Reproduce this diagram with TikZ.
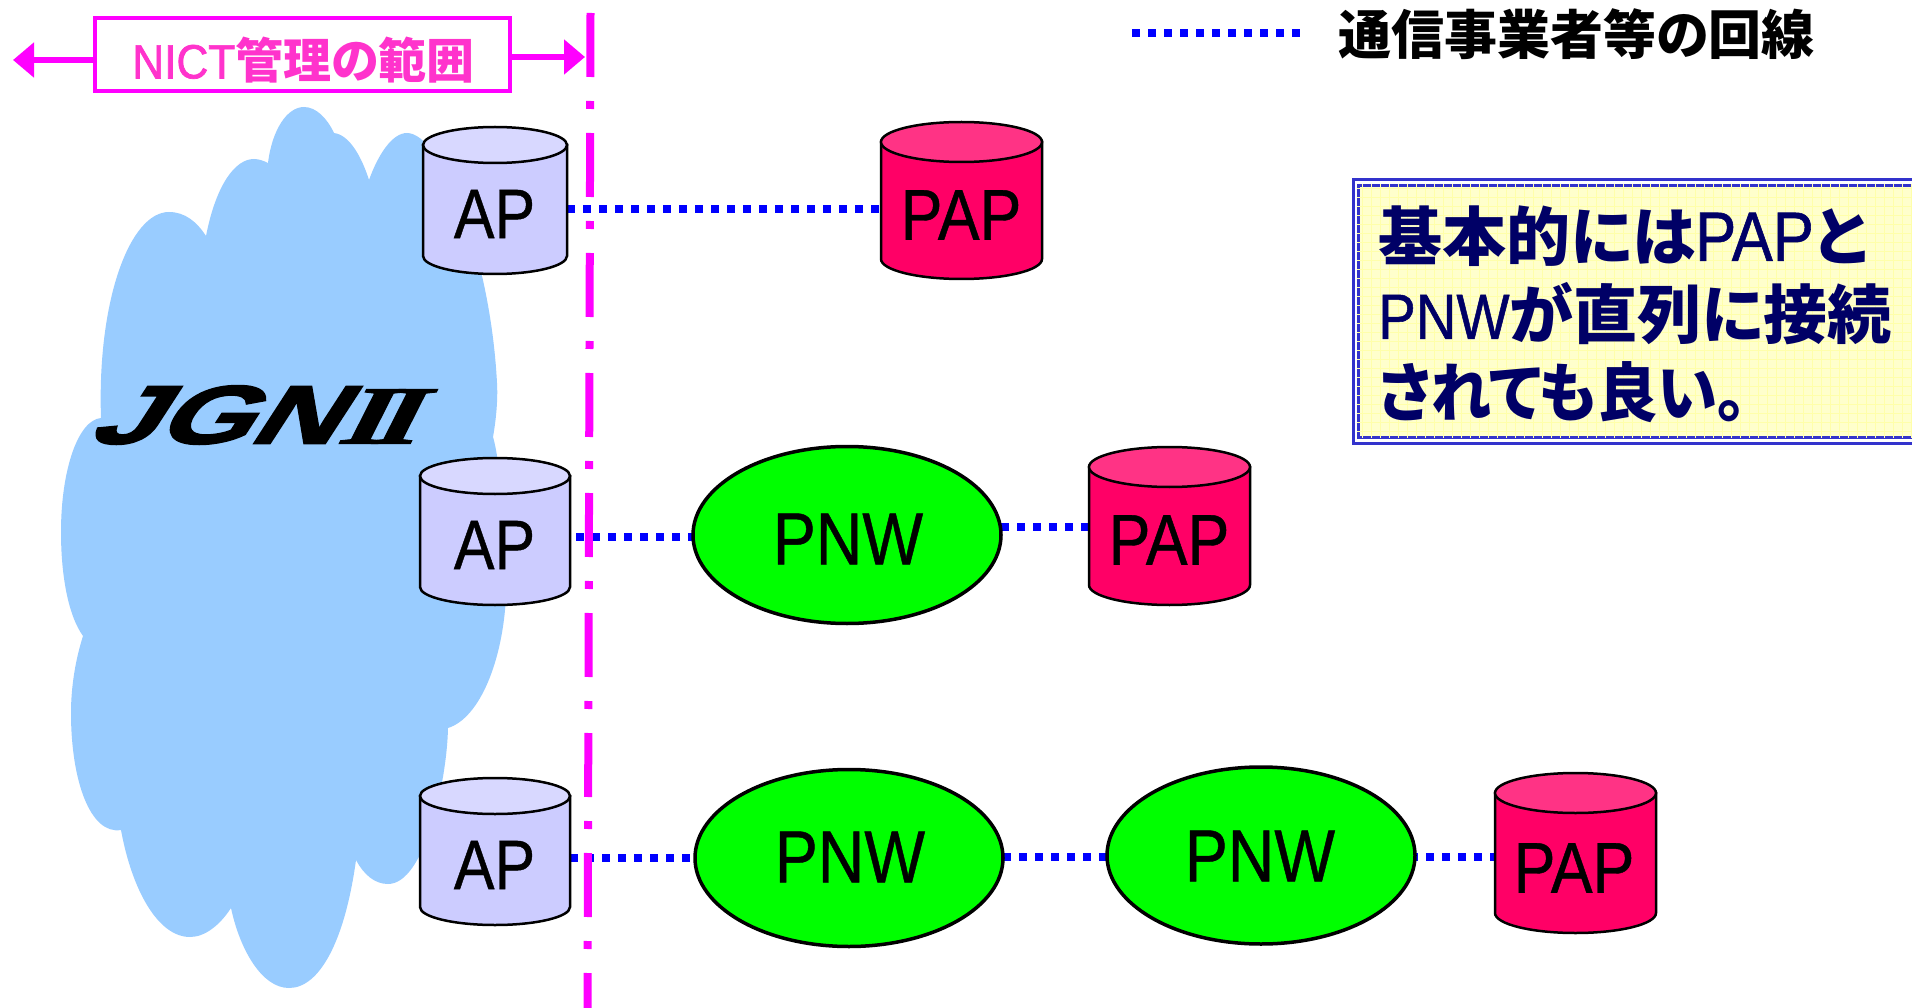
\documentclass[tikz,border=0pt]{standalone}
\usepackage{fontspec}
\usepackage{graphicx}
\usetikzlibrary{arrows.meta,shapes.geometric}
\newfontfamily\jp[RawFeature=+palt]{Noto Sans CJK JP}
\newfontfamily\lat[FakeStretch=0.87,FakeBold=0.6]{Liberation Sans}
\newfontfamily\latn[FakeStretch=0.88,FakeBold=0.8]{Liberation Sans}
\newfontfamily\latb[FakeStretch=0.92,FakeBold=1.5]{Liberation Sans}
\newfontfamily\logoa[FakeSlant=0.45,FakeBold=2]{Liberation Sans Bold}
\newfontfamily\logob[FakeSlant=0.35,FakeBold=1]{Liberation Serif Bold}
\definecolor{cloudc}{RGB}{153,204,255}
\definecolor{apbody}{RGB}{204,204,255}
\definecolor{aptop}{RGB}{216,216,255}
\definecolor{papbody}{RGB}{255,0,102}
\definecolor{paptop}{RGB}{255,51,133}
\definecolor{pinktext}{RGB}{255,51,204}
\definecolor{notefill}{RGB}{255,255,204}
\definecolor{notegrid}{RGB}{255,255,170}
\definecolor{noteline}{RGB}{51,51,204}
\definecolor{navytext}{RGB}{0,0,102}
\definecolor{mag}{RGB}{255,0,255}
\definecolor{linkblue}{RGB}{0,0,255}
\definecolor{pnwgreen}{RGB}{0,255,0}
\pgfdeclarelayer{backlayer}
\pgfdeclarelayer{linklayer}
\pgfsetlayers{backlayer,linklayer,main}
\tikzset{
  link/.style={linkblue,line width=7.5pt,dash pattern=on 8pt off 8pt},
  span/.style={mag,line width=6pt,-{Triangle[length=21pt,width=34pt]}},
  limit/.style={mag,line width=8pt,dash pattern=on 64pt off 24pt on 8pt off 24pt},
  pnwnode/.style={ellipse,draw=black,line width=3.5pt,fill=pnwgreen,minimum width=308pt,minimum height=177pt,inner sep=0pt,outer sep=0pt},
  apl/.style={font=\lat\fontsize{70}{70}\selectfont,text=black,inner sep=0pt},
  papl/.style={font=\lat\fontsize{72}{72}\selectfont,text=black,inner sep=0pt},
  pnwl/.style={font=\lat\fontsize{74}{74}\selectfont,text=black,inner sep=0pt},
}
% name, centre x, top y, width, height, body colour, top colour, line width, radius y
\newcommand\cylnode[9]{%
  \pgfmathsetmacro\cxl{#2-#4/2}\pgfmathsetmacro\cxr{#2+#4/2}
  \pgfmathsetmacro\cyt{#3+#9}\pgfmathsetmacro\cyb{#3+#5-#9}
  \pgfmathsetmacro\crx{#4/2}\pgfmathsetmacro\ccy{#3+#5/2}
  \draw[fill=#6,draw=black,line width=#8pt] (\cxl,\cyt) -- (\cxl,\cyb) arc[start angle=180,end angle=360,x radius=\crx pt,y radius=#9 pt] -- (\cxr,\cyt) -- cycle;
  \draw[fill=#7,draw=black,line width=#8pt] (#2,\cyt) ellipse[x radius=\crx pt,y radius=#9 pt];
  \node[inner sep=0pt,outer sep=0pt,minimum width=#4pt,minimum height=#5pt] (#1) at (#2,\ccy) {};
}
\begin{document}
\begin{tikzpicture}[x=1pt,y=-1pt]
\useasboundingbox (0,0) rectangle (1912,1008);
\clip (0,0) rectangle (1912,1008);
\begin{pgfonlayer}{backlayer}
\fill[white] (0,0) rectangle (1912,1008);
% cloud
\fill[cloudc] (101,418) .. controls (97,300) and (130,212) .. (169,212)
  .. controls (185,212) and (197,222) .. (206,236)
  .. controls (216,185) and (235,159) .. (254,159)
  .. controls (259,159) and (264,161) .. (268,163)
  .. controls (272,130) and (287,107) .. (304,107)
  .. controls (316,107) and (327,118) .. (334,133)
  .. controls (350,135) and (362,158) .. (369,180)
  .. controls (378,155) and (392,133) .. (407,133)
  .. controls (440,133) and (490,250) .. (497,383)
  .. controls (498,400) and (496,420) .. (493,437)
  .. controls (500,460) and (506,530) .. (506,596)
  .. controls (503,660) and (480,718) .. (448,728)
  .. controls (447,780) and (425,884) .. (388,884)
  .. controls (375,884) and (364,875) .. (356,860)
  .. controls (345,940) and (320,988) .. (289,988)
  .. controls (262,988) and (240,950) .. (231,908)
  .. controls (220,925) and (205,937) .. (190,937)
  .. controls (158,937) and (132,890) .. (121,830)
  .. controls (90,835) and (71,780) .. (71,713)
  .. controls (71,685) and (76,658) .. (83,636)
  .. controls (68,615) and (61,575) .. (61,532)
  .. controls (61,470) and (78,420) .. (101,418) -- cycle;
\end{pgfonlayer}

% logo
\node[inner sep=0pt,anchor=west] (logo) at (86,415) {\resizebox{328pt}{58pt}{\logoa JGN\kern0.02em\logob I\kern-0.12em I}};

% cylinders
\cylnode{ap1}{495}{127}{144}{147}{apbody}{aptop}{2.5}{18}
\cylnode{ap2}{495}{458}{150}{147}{apbody}{aptop}{2.5}{18}
\cylnode{ap3}{495}{778}{150}{147}{apbody}{aptop}{2.5}{18}
\cylnode{pap1}{961.5}{122}{161}{157}{papbody}{paptop}{2.5}{20}
\cylnode{pap2}{1169.5}{447}{161}{158}{papbody}{paptop}{2.5}{20}
\cylnode{pap3}{1575.5}{773}{161}{160}{papbody}{paptop}{2.5}{20}

% ellipses
\node[pnwnode] (pnw1) at (847,535) {};
\node[pnwnode] (pnw2) at (849,858) {};
\node[pnwnode] (pnw3) at (1261,855.5) {};

% labels
\node[apl] (ap1t) at (494.5,214) {AP};
\node[apl] (ap2t) at (494.5,545) {AP};
\node[apl] (ap3t) at (494.5,865) {AP};
\node[papl] (pap1t) at (961,215) {PAP};
\node[papl] (pap2t) at (1169,540) {PAP};
\node[papl] (pap3t) at (1574,868) {PAP};
\node[pnwl] (pnw1t) at (848,539) {PNW};
\node[pnwl] (pnw2t) at (850,857) {PNW};
\node[pnwl] (pnw3t) at (1260,856) {PNW};

% connectors
\begin{pgfonlayer}{linklayer}
\draw[link] ([shift={(0,8.5)}]ap1.east) -- ([shift={(10,8.5)}]pap1.west);
\draw[link] ([shift={(6,5.5)}]ap2.east) -- ([shift={(10,2)}]pnw1.west);
\draw[link] ([shift={(0,-8)}]pnw1.east) -- ([shift={(10,1)}]pap2.west);
\draw[link] ([shift={(0,6.5)}]ap3.east) -- ([shift={(10,0)}]pnw2.west);
\draw[link] ([shift={(0,-1)}]pnw2.east) -- ([shift={(10,1.5)}]pnw3.west);
\draw[link] ([shift={(-5,1.5)}]pnw3.east) -- ([shift={(10,4)}]pap3.west);
\end{pgfonlayer}

% NICT box and range marks
\coordinate (limtop) at (590.5,13);
\coordinate (limbot) at (587.5,1012);
\draw[limit] (limtop) -- (limbot);
\node[draw=mag,line width=4pt,fill=white,minimum width=415pt,minimum height=73pt,inner sep=0pt] (range) at (302.5,54.5) {};
\node[inner sep=0pt,text=pinktext] (rangetext) at (303.5,60) {\fontsize{48}{48}\selectfont\latb NICT\jp\bfseries 管理の範囲};
\coordinate (leftend) at (13,60);
\coordinate (rightend) at (585,57);
\draw[span] (range.west |- leftend) -- (leftend);
\draw[span] (range.east |- rightend) -- (rightend);

% legend
\coordinate (legl) at (1132,33);
\coordinate (legr) at (1300,33);
\draw[link] (legl) -- (legr);
\node[inner sep=0pt,anchor=west,text=black] (legtext) at (1338,34) {\fontsize{53}{53}\selectfont\jp\bfseries 通信事業者等の回線};

% note
\node[draw=noteline,line width=3pt,fill=white,anchor=north west,minimum width=600pt,minimum height=263pt,inner sep=0pt] (noteout) at (1351.5,178.5) {};
\node[draw=noteline,line width=3pt,fill=notefill,anchor=north west,minimum width=590pt,minimum height=251.5pt,inner sep=0pt] (note) at (1356.5,184.5) {};
\begin{scope}
  \clip (note.north west) rectangle (note.south east);
  \foreach \gx in {1362,1371,...,1920} \draw[notegrid,line width=0.8pt] (\gx,183) -- (\gx,438);
  \foreach \gy in {188,197,...,438} \draw[notegrid,line width=0.8pt] (1357,\gy) -- (1920,\gy);
\end{scope}
\node[inner sep=0pt,anchor=north west,align=left,text=navytext,font=\fontsize{64}{78}\selectfont\jp\bfseries] (notetext) at (1378,206) {基本的には{\mdseries\latn\fontsize{70}{78}\selectfont PAP}と\\{\mdseries\latn\fontsize{64}{78}\selectfont PNW}が直列に接続\\\scalebox{0.943}[1]{されても良い。}};
\end{tikzpicture}
\end{document}
